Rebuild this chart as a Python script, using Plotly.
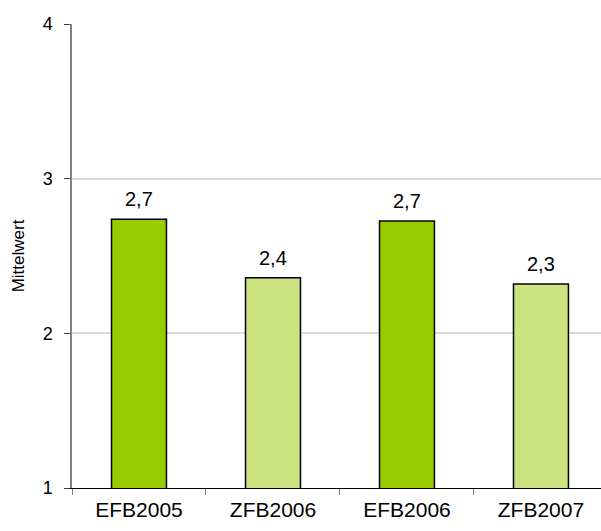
import plotly.graph_objects as go

categories = ["EFB2005", "ZFB2006", "EFB2006", "ZFB2007"]
values = [2.737, 2.36, 2.726, 2.319]
labels = ["2,7", "2,4", "2,7", "2,3"]
colors = ["#99CC00", "#CCE382", "#99CC00", "#CCE382"]
y_ticks = [1, 2, 3, 4]

fig = go.Figure()
fig.add_trace(go.Bar(
    x=categories, y=values, width=0.41,
    marker=dict(color=colors, line=dict(color="black", width=1.5)),
    hoverinfo="skip",
))

for c, v, t in zip(categories, values, labels):
    fig.add_annotation(x=c, y=v, text=t, showarrow=False, yanchor="bottom",
                       yshift=7, font=dict(size=20, color="black"))

fig.update_layout(
    width=601, height=531,
    margin=dict(l=72, r=0, t=24, b=43),
    paper_bgcolor="white", plot_bgcolor="white",
    font=dict(family="Liberation Sans, Arial, sans-serif", color="black"),
    showlegend=False,
)
fig.update_xaxes(
    type="category", range=[-0.5, 3.448],
    showline=True, linecolor="black", linewidth=1,
    ticks="outside", tickson="boundaries", ticklen=6, tickcolor="#808080",
    tickfont=dict(size=21), showgrid=False, ticklabelstandoff=3,
)
fig.update_yaxes(
    range=[1, 4], tickvals=y_ticks, ticktext=[str(v) for v in y_ticks],
    showline=True, linecolor="#808080", linewidth=1.5,
    ticks="outside", ticklen=6, tickcolor="#404040",
    tickfont=dict(size=18), showgrid=True, gridcolor="#D9D9D9", gridwidth=1.5,
    ticklabelstandoff=8,
    title=dict(text="Mittelwert", font=dict(size=17), standoff=14),
    zeroline=False,
)

fig.write_html("out.html", config={"displayModeBar": False},
               post_script="document.body.style.margin='0';document.body.style.overflow='hidden';")
